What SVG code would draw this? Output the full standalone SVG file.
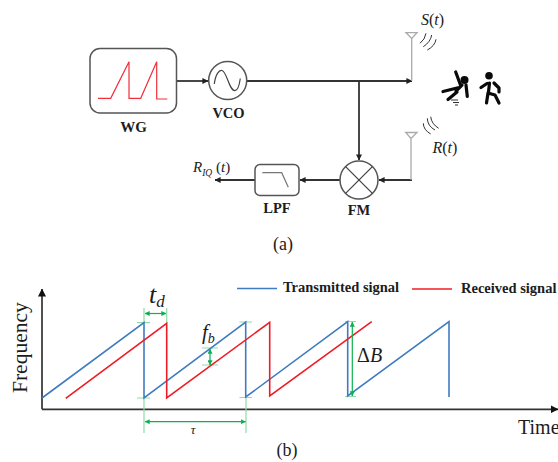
<svg xmlns="http://www.w3.org/2000/svg" width="558" height="462" viewBox="0 0 558 462">
<style>
text{font-family:"Liberation Serif","Times New Roman",serif;fill:#1c1c1c}
.b{font-weight:bold}
.i{font-style:italic}
.box{fill:#fff;stroke:#555;stroke-width:1.5}
.wire{fill:none;stroke:#333;stroke-width:1.8}
.ant{fill:none;stroke:#aaa;stroke-width:1.3}
.wave{fill:none;stroke:#333;stroke-width:1}
.blue{fill:none;stroke:#3f7cbf;stroke-width:1.6}
.red{fill:none;stroke:#f01c24;stroke-width:1.6}
.grn{fill:none;stroke:#0cb050;stroke-width:1.2}
.tick{fill:none;stroke:#8fdca8;stroke-width:1.2}
.fig{fill:none;stroke:#0a0a0a;stroke-width:3.2;stroke-linecap:round;stroke-linejoin:round}
</style>
<defs>
<marker id="ah" viewBox="0 0 8 8" refX="7.5" refY="4" markerWidth="6" markerHeight="6" markerUnits="userSpaceOnUse" orient="auto"><path d="M0 0L8 4L0 8z" fill="#222"/></marker>
<marker id="ax" viewBox="0 0 8 8" refX="7.5" refY="4" markerWidth="8" markerHeight="8" markerUnits="userSpaceOnUse" orient="auto"><path d="M0 0L8 4L0 8z" fill="#111"/></marker>
<marker id="ag" viewBox="0 0 8 8" refX="7.5" refY="4" markerWidth="5" markerHeight="5" markerUnits="userSpaceOnUse" orient="auto-start-reverse"><path d="M0 0L8 4L0 8z" fill="#0cb050"/></marker>
</defs>
<g id="connectors">
<path class="wire" d="M177 81H208" marker-end="url(#ah)"/>
<path class="wire" d="M247 81H412" marker-end="url(#ah)"/>
<path class="wire" d="M359 81V160" marker-end="url(#ah)"/>
<path class="wire" d="M412 180H379" marker-end="url(#ah)"/>
<path class="wire" d="M340 180H300" marker-end="url(#ah)"/>
<path class="wire" d="M255 180H215" marker-end="url(#ah)"/>
</g>
<g id="WG">
<rect class="box" x="90" y="48.500" width="86.500" height="64.500" rx="10"/>
<path d="M98 98.300H110.700L129 61.700V98.300H140.700L156.700 61.700V99H167.300" fill="none" stroke="#f0303a" stroke-width="1.200"/>
<text class="b" x="133.500" y="132" font-size="15" text-anchor="middle">WG</text>
</g>
<g id="VCO">
<circle class="box" cx="227.700" cy="80.500" r="19"/>
<path d="M214.300 84C215.500 74 219 70 222 70.500C227 71.500 229 91 235 90.700C238 90.500 239.500 84 240.300 78.500" fill="none" stroke="#444" stroke-width="1.200"/>
<text class="b" x="228.500" y="118" font-size="14.500" text-anchor="middle">VCO</text>
</g>
<g id="FM">
<circle class="box" cx="359" cy="180" r="19"/>
<path d="M345.600 166.600L372.400 193.400M372.400 166.600L345.600 193.400" stroke="#444" stroke-width="1.300"/>
<text class="b" x="359" y="215" font-size="14.500" text-anchor="middle">FM</text>
</g>
<g id="LPF">
<rect class="box" x="255" y="164.500" width="44" height="31" rx="5"/>
<path d="M262.300 172.700H281.700L288.300 187.300" fill="none" stroke="#777" stroke-width="1.200"/>
<text class="b" x="277" y="213" font-size="14.500" text-anchor="middle">LPF</text>
</g>
<g id="antenna-tx">
<path class="ant" d="M411.700 38V81M406 32.700H417L411.700 38.500Z"/>
<path class="wave" d="M420 43.300Q425 39.500 426 33.300M423.300 46.700Q430.500 42 431.700 35M427.300 50Q435 46 436 39.300"/>
<text x="421" y="25" font-size="16"><tspan class="i">S</tspan>(<tspan class="i">t</tspan>)</text>
</g>
<g id="antenna-rx">
<path class="ant" d="M411 138V180M405.700 132.500H417L411 138.500Z"/>
<path class="wave" d="M430.700 116.700Q431.500 124 438.700 128.300M427.300 118.300Q427.500 126 435 130M423.300 123.300Q423.500 130 430.700 134"/>
<text x="432.500" y="153" font-size="16"><tspan class="i">R</tspan>(<tspan class="i">t</tspan>)</text>
</g>
<g id="person-falling">
<circle cx="464.500" cy="80" r="4" fill="#0a0a0a"/>
<path class="fig" d="M455.700 72L460.500 85M466 85L467.300 96.500M457 88L443 91.500M457 92L448 99.500"/>
<path class="fig" stroke-width="5" d="M462 85L456 91"/>
<path class="wave" d="M451 100H458M453 102.500H459M455 105H458"/>
</g>
<g id="person-walking">
<circle cx="489" cy="75.700" r="3.800" fill="#0a0a0a"/>
<path class="fig" d="M481 87.500L487 83.500M494 83L499 88V92M488 93L486.500 103M488 93L495 95L499 103"/>
<path class="fig" stroke-width="5" d="M489.500 83L488.500 92"/>
</g>
<text x="193" y="172" font-size="15"><tspan class="i">R</tspan><tspan class="i" font-size="9.500" dy="4">IQ</tspan><tspan dy="-4"> (</tspan><tspan class="i">t</tspan>)</text>
<text x="283" y="250" font-size="18" text-anchor="middle">(a)</text>
<g id="chart-b">
<path d="M42 409.300V289" fill="none" stroke="#333" stroke-width="1.700" marker-end="url(#ax)"/>
<path d="M42 409.300H558" fill="none" stroke="#333" stroke-width="1.700" marker-end="url(#ax)"/>
<text transform="translate(27 393) rotate(-90)" font-size="21.500">Frequency</text>
<text x="518" y="434" font-size="20">Time</text>
<path class="tick" d="M144 308V323M166.700 308V323M144 398V433M246 398V433M137 322.700H150M137 398H150M239.500 322H252M239.500 397.500H252M202 348H218M202 365H218M345 321.500H356M345 396.500H356"/>
<path class="blue" d="M42 398L144 322.500V398L245.700 322V397L347.700 321.700V396L449 321.700V397"/>
<path class="red" d="M65.700 398.300L166.700 323.300V398L269.700 322.300V396L371.700 321.700"/>
<path class="grn" d="M145 313.500H166" marker-start="url(#ag)" marker-end="url(#ag)"/>
<path class="grn" d="M210 349V365" marker-start="url(#ag)" marker-end="url(#ag)"/>
<path class="grn" d="M145 421.700H245.500" marker-start="url(#ag)" marker-end="url(#ag)"/>
<path class="grn" d="M352.300 322V396" marker-start="url(#ag)" marker-end="url(#ag)"/>
<text x="149" y="303" font-size="26" class="i">t<tspan font-size="17" dy="4">d</tspan></text>
<text x="202" y="339" font-size="21" class="i">f<tspan font-size="14" dy="4">b</tspan></text>
<text x="193" y="434" font-size="13" class="i" text-anchor="middle">τ</text>
<text x="357" y="362" font-size="20">Δ<tspan class="i">B</tspan></text>
<path class="blue" d="M237 288.500H277"/>
<text class="b" x="283" y="292" font-size="14.500">Transmitted signal</text>
<path class="red" d="M412 289H452"/>
<text class="b" x="461" y="293" font-size="14.500">Received signal</text>
</g>
<text x="287" y="456" font-size="18" text-anchor="middle">(b)</text>
</svg>
